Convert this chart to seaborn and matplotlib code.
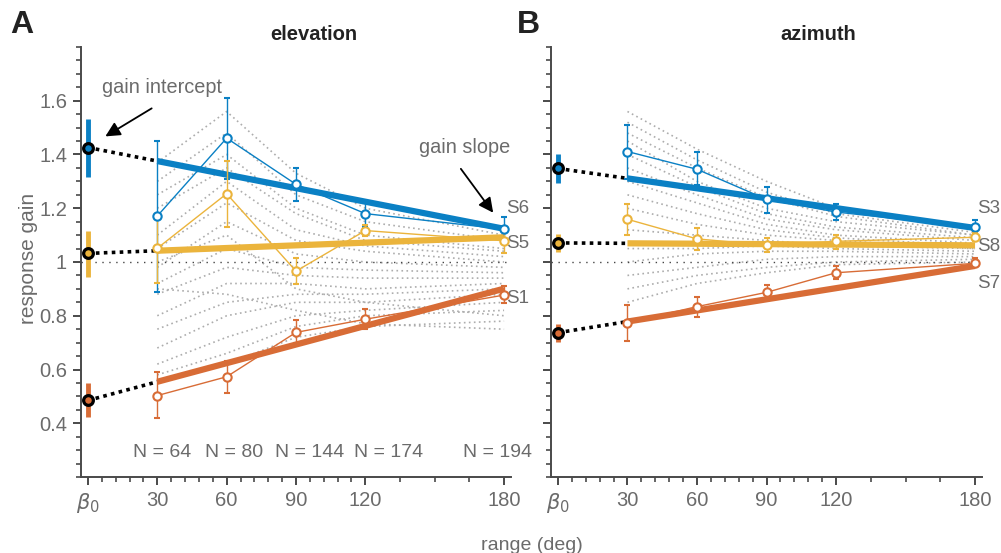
import numpy as np
import pandas as pd
import matplotlib
matplotlib.use("Agg")
import matplotlib.pyplot as plt
import seaborn as sns

# ---- data ----
ranges = [30, 60, 90, 120, 180]

# individual subjects (grey dotted), elevation
elev_subjects = [
    [1.37, 1.56, 1.33, 1.20, 1.10],
    [1.30, 1.48, 1.25, 1.15, 1.08],
    [1.25, 1.40, 1.20, 1.10, 1.05],
    [1.20, 1.35, 1.18, 1.08, 1.04],
    [1.10, 1.30, 1.12, 1.06, 1.02],
    [1.05, 1.22, 1.08, 1.04, 1.00],
    [0.98, 1.15, 1.03, 1.00, 0.98],
    [0.92, 1.05, 0.98, 0.97, 0.96],
    [0.88, 0.98, 0.95, 0.94, 0.94],
    [0.80, 0.92, 0.92, 0.90, 0.92],
    [0.75, 0.85, 0.88, 0.88, 0.90],
    [0.68, 0.80, 0.85, 0.85, 0.88],
    [0.62, 0.72, 0.80, 0.82, 0.85],
    [0.58, 0.66, 0.76, 0.80, 0.82],
    [0.55, 0.62, 0.72, 0.76, 0.78],
    [0.90, 0.88, 0.82, 0.77, 0.75],
    [1.00, 1.10, 0.90, 0.85, 0.80],
]
# individual subjects (grey dotted), azimuth
azim_subjects = [
    [1.56, 1.42, 1.30, 1.20, 1.12],
    [1.52, 1.38, 1.26, 1.18, 1.11],
    [1.48, 1.35, 1.24, 1.17, 1.10],
    [1.45, 1.30, 1.20, 1.15, 1.10],
    [1.40, 1.28, 1.18, 1.13, 1.09],
    [1.35, 1.25, 1.16, 1.12, 1.08],
    [1.30, 1.22, 1.14, 1.10, 1.07],
    [1.25, 1.18, 1.12, 1.09, 1.06],
    [1.20, 1.14, 1.10, 1.08, 1.05],
    [1.12, 1.10, 1.08, 1.06, 1.05],
    [1.05, 1.05, 1.06, 1.05, 1.04],
    [1.00, 1.03, 1.04, 1.04, 1.03],
    [0.95, 0.98, 1.01, 1.02, 1.02],
    [0.90, 0.95, 0.98, 1.00, 1.01],
    [0.85, 0.92, 0.96, 0.99, 1.00],
]

# highlighted subjects: mean, lower, upper at each range
elev_names = ["S6", "S5", "S1"]
elev_mean = [
    [1.171, 1.461, 1.289, 1.180, 1.122],
    [1.051, 1.254, 0.966, 1.117, 1.079],
    [0.503, 0.573, 0.738, 0.787, 0.877],
]
elev_lo = [
    [0.889, 1.309, 1.228, 1.130, 1.080],
    [0.920, 1.131, 0.918, 1.097, 1.035],
    [0.420, 0.511, 0.700, 0.750, 0.848],
]
elev_hi = [
    [1.452, 1.612, 1.351, 1.220, 1.169],
    [1.180, 1.376, 1.014, 1.137, 1.110],
    [0.590, 0.630, 0.784, 0.826, 0.910],
]
elev_icpt = [1.426, 1.032, 0.485]
elev_icpt_lo = [1.318, 0.945, 0.422]
elev_icpt_hi = [1.533, 1.117, 0.550]
elev_slope = [-0.00168, 0.000333, 0.00231]

azim_names = ["S3", "S8", "S7"]
azim_mean = [
    [1.411, 1.345, 1.233, 1.186, 1.129],
    [1.159, 1.086, 1.063, 1.077, 1.092],
    [0.774, 0.834, 0.887, 0.960, 0.995],
]
azim_lo = [
    [1.310, 1.287, 1.184, 1.156, 1.110],
    [1.100, 1.045, 1.038, 1.050, 1.077],
    [0.707, 0.794, 0.860, 0.935, 0.980],
]
azim_hi = [
    [1.510, 1.411, 1.280, 1.216, 1.156],
    [1.215, 1.127, 1.089, 1.100, 1.107],
    [0.840, 0.871, 0.914, 0.986, 1.015],
]
azim_icpt = [1.348, 1.071, 0.737]
azim_icpt_lo = [1.293, 1.037, 0.703]
azim_icpt_hi = [1.402, 1.104, 0.768]
azim_slope = [-0.00123, -0.00005, 0.00138]

label_y_elev = [1.20, 1.067, 0.866]
label_y_azim = [1.20, 1.057, 0.92]

n_labels = ["N = 64", "N = 80", "N = 144", "N = 174", "N = 194"]
n_label_x = [32, 63, 96, 130, 177]

colors = ["#0a80c4", "#ebb43c", "#d86c36"]
grey_txt = "#6b6b6b"
spine_col = "#4a4a4a"

sns.set_theme(style="ticks")
plt.rcParams["font.family"] = ["Liberation Sans", "DejaVu Sans"]
plt.rcParams["mathtext.fontset"] = "dejavusans"


def subjects_df(rows):
    recs = []
    for i, row in enumerate(rows):
        for r, g in zip(ranges, row):
            recs.append({"subject": i, "range": r, "gain": g})
    return pd.DataFrame(recs)


def draw_panel(ax, subjects, mean, lo, hi, icpt, icpt_lo, icpt_hi, slope, names, label_y, show_ylabels):
    sns.lineplot(data=subjects_df(subjects), x="range", y="gain", units="subject",
                 estimator=None, color="#adadad", linestyle=(0, (1, 2)), lw=1.2,
                 ax=ax, legend=False, zorder=1)
    ax.plot([-3, 183], [1, 1], color="#444444", lw=1, linestyle=(0, (1, 4)), zorder=2)

    x = np.array(ranges)
    for k in range(3):
        c = colors[k]
        # thin subject curve with error bars
        m = np.array(mean[k])
        yerr = [m - np.array(lo[k]), np.array(hi[k]) - m]
        ax.errorbar(x, m, yerr=yerr, color=c, lw=1, elinewidth=1, capsize=2,
                    capthick=1, marker="o", ms=6, mfc="white", mec=c, mew=1.5, zorder=6)
        # fitted line
        y30 = icpt[k] + slope[k] * 30
        y180 = icpt[k] + slope[k] * 180
        ax.plot([30, 180], [y30, y180], color=c, lw=4.5, solid_capstyle="butt", zorder=4)
        # dotted link to intercept
        ax.plot([0, 30], [icpt[k], y30], color="black", lw=2.6, linestyle=(0, (1, 1.2)), zorder=5)
        # intercept with error
        ax.plot([0, 0], [icpt_lo[k], icpt_hi[k]], color=c, lw=3.5, solid_capstyle="butt", zorder=7)
        ax.plot([0], [icpt[k]], marker="o", ms=7, mfc=c, mec="black", mew=2.3, zorder=8)
        ax.text(181, label_y[k], names[k], color=grey_txt, fontsize=13.5, ha="left", va="center")

    ax.set_xlim(-3, 183)
    ax.set_ylim(0.2, 1.8)
    ax.set_xlabel("")
    ax.set_ylabel("")
    sns.despine(ax=ax)
    for s in ["left", "bottom"]:
        ax.spines[s].set_color(spine_col)
        ax.spines[s].set_linewidth(1.4)

    ax.set_xticks([0, 30, 60, 90, 120, 180])
    ax.set_xticklabels([r"$\beta_0$", "30", "60", "90", "120", "180"])
    minor_x = [6, 12, 18, 24, 36, 42, 48, 54, 66, 72, 78, 84, 96, 102, 108, 114, 135, 150, 165]
    ax.set_xticks(minor_x, minor=True)
    major_y = [0.4, 0.6, 0.8, 1.0, 1.2, 1.4, 1.6]
    ax.set_yticks(major_y)
    if show_ylabels:
        ax.set_yticklabels(["0.4", "0.6", "0.8", "1", "1.2", "1.4", "1.6"])
    else:
        ax.set_yticklabels([])
    minor_y = [v / 100 for v in range(20, 181, 5) if v not in (40, 60, 80, 100, 120, 140, 160)]
    ax.set_yticks(minor_y, minor=True)
    ax.tick_params(which="major", direction="out", length=6, width=1.4, color=spine_col,
                   labelsize=14.5, labelcolor=grey_txt, pad=4)
    ax.tick_params(which="minor", direction="out", length=3.5, width=1.2, color=spine_col)
    for lab in ax.get_xticklabels()[:1]:
        lab.set_fontsize(15)


fig = plt.figure(figsize=(10.01, 5.53), dpi=100)
axA = fig.add_axes([81 / 1001, 76 / 553, 430 / 1001, 430 / 553])
axB = fig.add_axes([551 / 1001, 76 / 553, 431 / 1001, 430 / 553])

draw_panel(axA, elev_subjects, elev_mean, elev_lo, elev_hi, elev_icpt, elev_icpt_lo,
           elev_icpt_hi, elev_slope, elev_names, label_y_elev, True)
draw_panel(axB, azim_subjects, azim_mean, azim_lo, azim_hi, azim_icpt, azim_icpt_lo,
           azim_icpt_hi, azim_slope, azim_names, label_y_azim, False)

for nx, nl in zip(n_label_x, n_labels):
    axA.text(nx, 0.292, nl, color=grey_txt, fontsize=14, ha="center", va="center")

axA.annotate("", xy=(6.5, 1.462), xytext=(28.6, 1.577),
             arrowprops=dict(arrowstyle="-|>", color="black", lw=1.3, mutation_scale=22))
axA.text(32, 1.648, "gain intercept", color=grey_txt, fontsize=14.3, ha="center", va="center")
axA.annotate("", xy=(176, 1.175), xytext=(160.6, 1.355),
             arrowprops=dict(arrowstyle="-|>", color="black", lw=1.3, mutation_scale=22))
axA.text(163, 1.425, "gain slope", color=grey_txt, fontsize=14.3, ha="center", va="center")

fig.text(314 / 1001, 1 - 35 / 553, "elevation", fontsize=14.5, fontweight="bold",
         ha="center", va="center", color="#222222")
fig.text(818 / 1001, 1 - 35 / 553, "azimuth", fontsize=14.5, fontweight="bold",
         ha="center", va="center", color="#222222")
fig.text(10 / 1001, 1 - 25 / 553, "A", fontsize=23, fontweight="bold", ha="left",
         va="center", color="#222222")
fig.text(517 / 1001, 1 - 25 / 553, "B", fontsize=23, fontweight="bold", ha="left",
         va="center", color="#222222")
fig.text(28 / 1001, 1 - 258 / 553, "response gain", fontsize=15, rotation=90,
         ha="center", va="center", color=grey_txt)
fig.text(532 / 1001, 1 - 545 / 553, "range (deg)", fontsize=14, ha="center",
         va="center", color=grey_txt)

fig.savefig("out.png", dpi=100)
